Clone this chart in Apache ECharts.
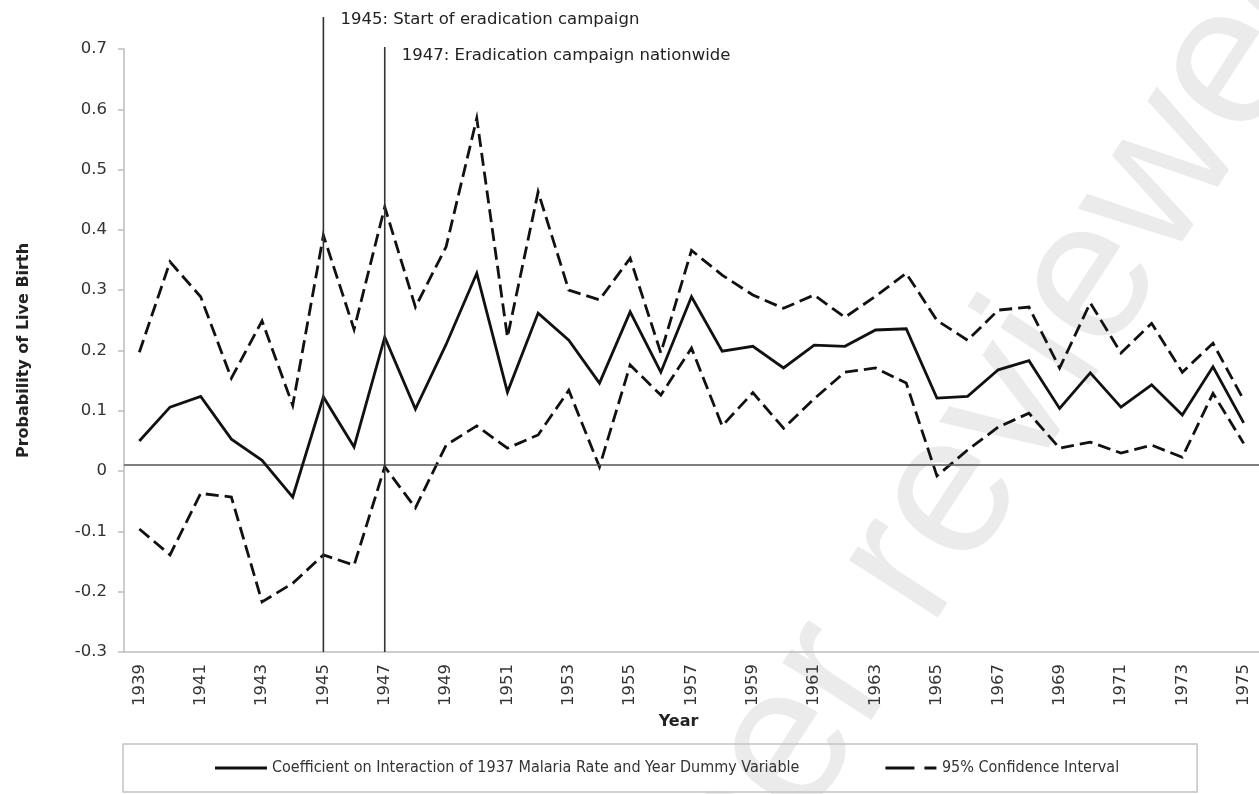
<!DOCTYPE html>
<html>
<head>
<meta charset="utf-8">
<title>Malaria coefficient by year</title>
<script src="https://cdn.jsdelivr.net/npm/echarts@6/dist/echarts.min.js"></script>
<style>
  html, body { margin: 0; padding: 0; background: #fff; }
  #chart { width: 1259px; height: 794px; }
</style>
</head>
<body>
<div id="chart"></div>
<script>
(function() {
	// 数据：年份
	var years = ['1939', '1940', '1941', '1942', '1943', '1944', '1945', '1946', '1947', '1948',
		'1949', '1950', '1951', '1952', '1953', '1954', '1955', '1956', '1957', '1958',
		'1959', '1960', '1961', '1962', '1963', '1964', '1965', '1966', '1967', '1968',
		'1969', '1970', '1971', '1972', '1973', '1974', '1975'];

	// 系数（实线）
	var coef = [0.05, 0.106, 0.124, 0.053, 0.018, -0.043, 0.123, 0.04, 0.222, 0.103,
		0.21, 0.328, 0.131, 0.262, 0.217, 0.146, 0.264, 0.164, 0.289, 0.199,
		0.207, 0.171, 0.209, 0.207, 0.234, 0.236, 0.121, 0.124, 0.168, 0.183,
		0.104, 0.163, 0.106, 0.143, 0.093, 0.173, 0.08];

	// 95% 置信区间 上界 / 下界（虚线）
	var upper = [0.197, 0.347, 0.289, 0.154, 0.249, 0.109, 0.391, 0.235, 0.438, 0.272,
		0.372, 0.585, 0.222, 0.463, 0.30, 0.284, 0.353, 0.196, 0.366, 0.325,
		0.292, 0.27, 0.292, 0.255, 0.29, 0.328, 0.25, 0.217, 0.267, 0.272,
		0.171, 0.279, 0.196, 0.245, 0.164, 0.212, 0.118];
	var lower = [-0.096, -0.139, -0.037, -0.043, -0.217, -0.186, -0.139, -0.156, 0.007, -0.061,
		0.043, 0.075, 0.038, 0.06, 0.134, 0.007, 0.176, 0.126, 0.204, 0.075,
		0.13, 0.071, 0.12, 0.164, 0.171, 0.146, -0.008, 0.035, 0.073, 0.096,
		0.038, 0.048, 0.03, 0.043, 0.023, 0.129, 0.046];

	// 标注：年份和文字
	var events = [
		{ year: '1945', text: '1945: Start of eradication campaign', top: 17, textY: 20 },
		{ year: '1947', text: '1947: Eradication campaign nationwide', top: 47, textY: 56 }
	];
	var zeroLine = 0.01;

	var coefName = 'Coefficient on Interaction of 1937 Malaria Rate and Year Dummy Variable';
	var ciName = '95% Confidence Interval';

	var font = 'DejaVu Sans';
	var narrow = '"Liberation Sans Narrow", "DejaVu Sans Condensed", "Liberation Sans", sans-serif';
	var dash = [13, 6];

	var myChart = echarts.init(document.getElementById('chart'));

	var option = {
		animation: false,
		backgroundColor: '#fff',
		grid: {
			left: 124,
			top: 49,
			width: 1140,
			height: 603
		},
		legend: {
			left: 123,
			top: 744,
			width: 1120,
			data: [{
				name: coefName,
				icon: 'path://M0,0h52v3h-52z'
			}, {
				name: ciName,
				icon: 'path://M0,0h29v3h-29z M39,0h12v3h-12z'
			}],
			padding: [16, 78, 16, 92],
			itemGap: 86,
			itemWidth: 52,
			itemHeight: 3,
			borderColor: '#c4c4c4',
			borderWidth: 1.5,
			textStyle: { fontFamily: narrow, fontSize: 16, color: '#333' }
		},
		xAxis: {
			type: 'category',
			data: years,
			boundaryGap: true,
			name: 'Year',
			nameLocation: 'middle',
			nameGap: 62,
			nameTextStyle: {
				fontFamily: font, fontWeight: 'bold', fontSize: 16, color: '#222',
				padding: [0, 26, 0, 0]
			},
			axisLine: { onZero: false, lineStyle: { color: '#bdbdbd', width: 1.5 } },
			axisTick: { interval: 0, length: 6, lineStyle: { color: '#bdbdbd', width: 1.5 } },
			axisLabel: {
				interval: 1,
				rotate: 90,
				margin: 12,
				fontFamily: font,
				fontSize: 16.5,
				color: '#333'
			},
			splitLine: { show: false }
		},
		yAxis: {
			type: 'value',
			min: -0.3,
			max: 0.7,
			interval: 0.1,
			name: 'Probability of Live Birth',
			nameLocation: 'middle',
			nameGap: 92,
			nameTextStyle: { fontFamily: font, fontWeight: 'bold', fontSize: 16, color: '#222' },
			axisLine: { show: true, lineStyle: { color: '#bdbdbd', width: 1.5 } },
			axisTick: { show: true, length: 6, lineStyle: { color: '#bdbdbd', width: 1.5 } },
			axisLabel: {
				margin: 17,
				fontFamily: font,
				fontSize: 16.5,
				color: '#333',
				formatter: function(v) { return String(+v.toFixed(1)); }
			},
			splitLine: { show: false }
		},
		series: [{
			name: coefName,
			type: 'line',
			data: coef,
			symbol: 'none',
			z: 5,
			lineStyle: { color: '#111', width: 2.8, join: 'miter' },
			itemStyle: { color: '#111' },
			markLine: {
				silent: true,
				symbol: 'none',
				label: { show: false },
				lineStyle: { color: '#555', width: 1.6, type: 'solid' },
				data: [{ yAxis: zeroLine }]
			}
		}, {
			name: ciName,
			type: 'line',
			data: upper,
			symbol: 'none',
			z: 4,
			lineStyle: { color: '#111', width: 2.8, type: dash, join: 'miter' },
			itemStyle: { color: '#111' }
		}, {
			name: ciName,
			type: 'line',
			data: lower,
			symbol: 'none',
			z: 4,
			lineStyle: { color: '#111', width: 2.8, type: dash, join: 'miter' },
			itemStyle: { color: '#111' }
		}]
	};

	myChart.setOption(option);

	// 标注竖线和文字（位置由坐标轴换算）
	var yBottom = myChart.convertToPixel({ yAxisIndex: 0 }, -0.3);
	var graphics = [{
		// 水印
		type: 'text',
		z: 0,
		silent: true,
		x: 1320,
		y: -72,
		rotation: 57 * Math.PI / 180,
		style: {
			text: 'Preprint not peer reviewed',
			fontFamily: 'Liberation Sans',
			fontSize: 200,
			fill: '#ebebeb',
			align: 'right',
			verticalAlign: 'middle'
		}
	}];
	events.forEach(function(ev) {
		var x = myChart.convertToPixel({ xAxisIndex: 0 }, ev.year);
		graphics.push({
			type: 'line',
			z: 10,
			silent: true,
			shape: { x1: x, y1: ev.top, x2: x, y2: yBottom },
			style: { stroke: '#333', lineWidth: 1.6 }
		});
		graphics.push({
			type: 'text',
			z: 10,
			silent: true,
			x: x + 17,
			y: ev.textY,
			style: {
				text: ev.text,
				fontFamily: font,
				fontSize: 16.5,
				fill: '#222',
				verticalAlign: 'middle'
			}
		});
	});
	myChart.setOption({ graphic: graphics });
}());
</script>
</body>
</html>
